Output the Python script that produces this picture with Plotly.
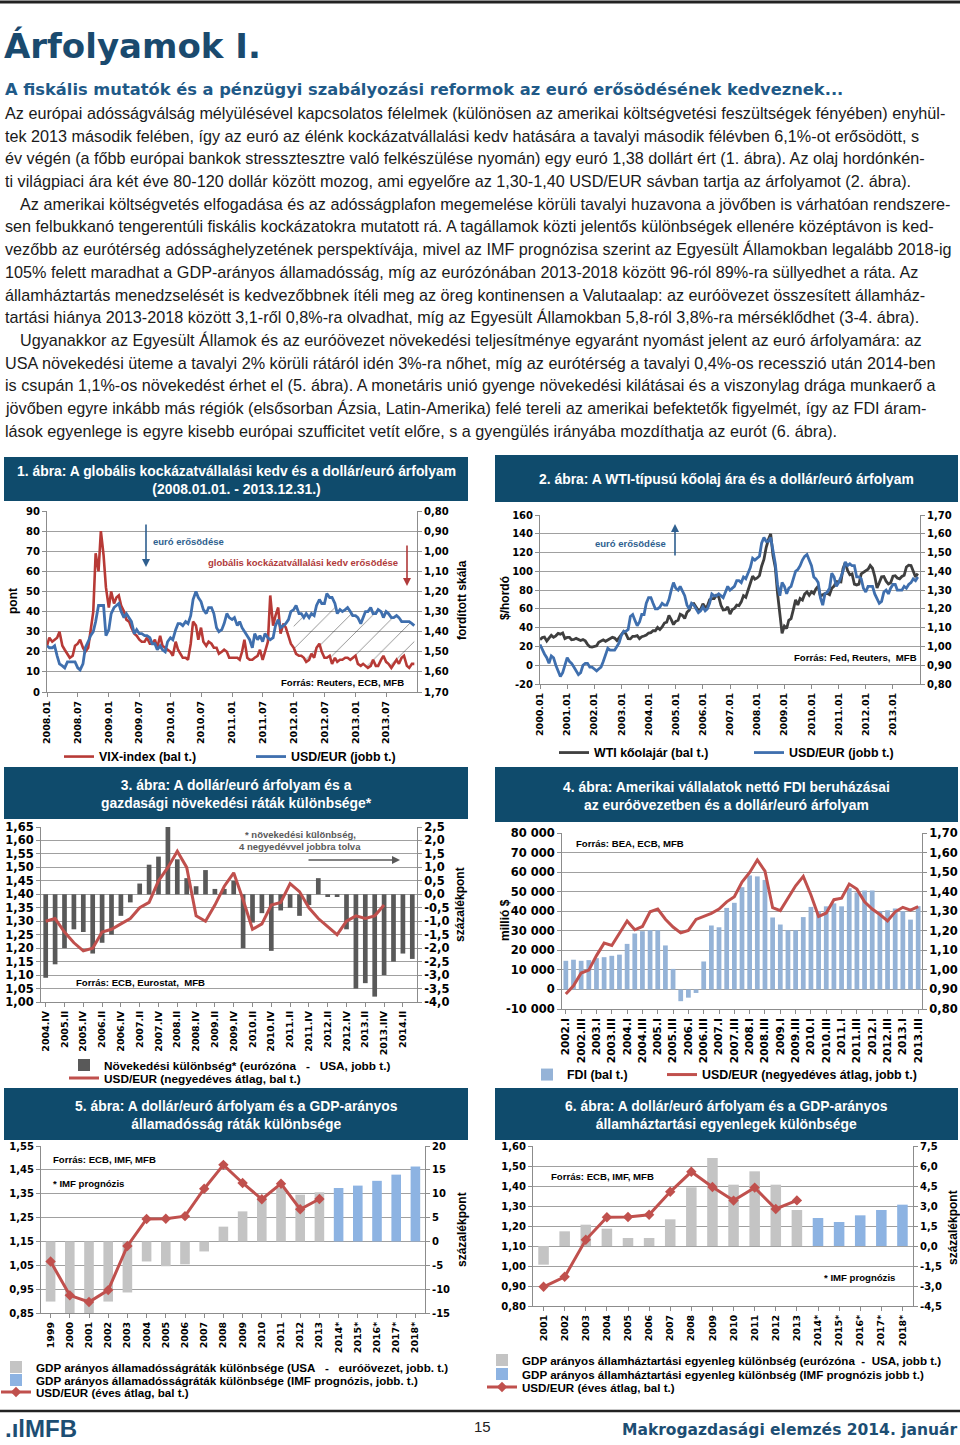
import plotly.graph_objects as go

W, H = 960, 1445


def X(p):
    return p / W


def Y(p):
    return 1 - p / H


def fmt(v, dec):
    return f"{v:.{dec}f}".replace(".", ",")


def fmt_k(v):
    s = f"{abs(int(v)):,}".replace(",", " ")
    return ("-" if v < 0 else "") + s


# ============================ DATA ============================
# --- 1. ábra: VIX and USD/EUR, semi-monthly 2008-2013 ---
c1_vix = [
    23, 27, 25, 26, 27, 30, 23, 21, 19, 17, 18, 23, 24, 26, 22, 20, 22, 31, 40, 69, 60, 80, 68, 52,
    42, 50, 44, 47, 48, 43, 40, 36, 35, 32, 29, 28, 26, 25, 25, 27, 24, 24, 26, 22, 28, 23, 22, 21,
    20, 18, 25, 21, 19, 17, 17, 16, 24, 35, 33, 26, 32, 25, 23, 25, 24, 22, 22, 19, 20, 21, 20, 17,
    17, 17, 17, 16, 20, 26, 17, 16, 16, 17, 18, 21, 16, 20, 25, 48, 33, 38, 42, 29, 34, 32, 28, 24,
    22, 19, 18, 18, 17, 15, 16, 19, 17, 22, 24, 20, 17, 17, 18, 14, 17, 15, 16, 16, 17, 17, 16, 17,
    18, 14, 13, 14, 13, 12, 13, 16, 13, 13, 16, 18, 15, 14, 12, 14, 16, 14, 17, 18, 13, 12, 14, 14,
]
c1_usd = [
    1.47, 1.48, 1.48, 1.47, 1.52, 1.56, 1.57, 1.58, 1.55, 1.55, 1.55, 1.55, 1.58, 1.59, 1.56, 1.48, 1.45, 1.42, 1.40, 1.35, 1.27, 1.27, 1.27, 1.42,
    1.39, 1.31, 1.28, 1.27, 1.26, 1.30, 1.33, 1.31, 1.33, 1.35, 1.41, 1.39, 1.41, 1.41, 1.42, 1.42, 1.43, 1.46, 1.46, 1.49, 1.47, 1.49, 1.50, 1.45,
    1.43, 1.44, 1.39, 1.36, 1.36, 1.37, 1.35, 1.36, 1.32, 1.24, 1.20, 1.23, 1.25, 1.29, 1.31, 1.28, 1.28, 1.31, 1.38, 1.40, 1.39, 1.36, 1.31, 1.33,
    1.34, 1.33, 1.37, 1.35, 1.38, 1.40, 1.42, 1.44, 1.48, 1.41, 1.44, 1.42, 1.45, 1.41, 1.43, 1.44, 1.43, 1.37, 1.34, 1.38, 1.37, 1.36, 1.34, 1.30,
    1.29, 1.27, 1.31, 1.31, 1.33, 1.31, 1.33, 1.31, 1.32, 1.27, 1.24, 1.26, 1.26, 1.21, 1.23, 1.23, 1.26, 1.31, 1.29, 1.30, 1.29, 1.28, 1.30, 1.32,
    1.32, 1.33, 1.36, 1.33, 1.30, 1.30, 1.28, 1.31, 1.31, 1.29, 1.30, 1.33, 1.30, 1.31, 1.33, 1.33, 1.32, 1.33, 1.35, 1.35, 1.35, 1.35, 1.36, 1.37,
]
c1_dates = [f"{y}-{m:02d}-{d:02d}" for y in range(2008, 2014) for m in range(1, 13) for d in (1, 15)]
c1_ticklabels = ["2008.01", "2008.07", "2009.01", "2009.07", "2010.01", "2010.07",
                 "2011.01", "2011.07", "2012.01", "2012.07", "2013.01", "2013.07"]
c1_left_ticks = [0, 10, 20, 30, 40, 50, 60, 70, 80, 90]
c1_right_ticks = [0.80, 0.90, 1.00, 1.10, 1.20, 1.30, 1.40, 1.50, 1.60, 1.70]
c1_hatch_start = "2012-01-01"

# --- 2. ábra: WTI and USD/EUR, monthly 2000-2013 ---
c2_wti = [
    27.3, 29.4, 29.9, 25.7, 28.8, 31.8, 29.7, 31.3, 33.9, 33.1, 34.4, 28.4,
    29.6, 29.6, 27.2, 27.4, 28.6, 27.6, 26.4, 27.4, 25.9, 22.2, 19.7, 19.3,
    19.7, 20.7, 24.4, 26.2, 27.0, 25.5, 26.9, 28.4, 29.7, 28.9, 26.3, 29.4,
    32.9, 35.9, 33.6, 28.3, 28.1, 30.7, 30.8, 31.6, 28.3, 30.3, 31.1, 32.2,
    34.3, 34.7, 36.7, 36.7, 40.3, 38.0, 40.7, 44.9, 45.9, 53.1, 48.5, 43.3,
    46.8, 48.0, 54.3, 53.0, 49.8, 56.3, 58.7, 65.0, 65.6, 62.4, 58.3, 59.4,
    65.5, 61.6, 62.9, 69.7, 70.9, 70.9, 74.4, 73.0, 63.8, 58.9, 59.1, 62.0,
    54.5, 59.3, 60.4, 64.0, 63.5, 67.5, 74.1, 72.4, 79.9, 85.8, 94.8, 91.7,
    93.0, 95.4, 105.5, 112.6, 125.4, 133.9, 140.0, 116.7, 104.1, 76.6, 57.3, 34.0,
    41.7, 39.1, 47.9, 49.6, 59.0, 69.6, 64.2, 71.1, 69.4, 75.7, 78.0, 74.5,
    78.3, 76.4, 81.2, 84.3, 73.7, 75.3, 76.3, 76.6, 75.2, 81.9, 84.3, 89.2,
    89.2, 88.6, 102.9, 109.5, 100.9, 96.3, 97.3, 86.3, 85.5, 86.3, 97.2, 98.6,
    100.3, 102.2, 106.2, 103.3, 94.7, 82.3, 87.9, 94.1, 94.5, 89.5, 86.5, 87.9,
    94.8, 95.3, 92.9, 92.0, 94.5, 95.8, 104.6, 106.6, 106.3, 100.5, 93.9, 97.6,
]
c2_usd = [
    1.01, 0.98, 0.96, 0.94, 0.91, 0.95, 0.94, 0.90, 0.87, 0.84, 0.86, 0.90,
    0.94, 0.92, 0.91, 0.89, 0.87, 0.85, 0.86, 0.90, 0.91, 0.91, 0.89, 0.89,
    0.88, 0.87, 0.88, 0.89, 0.92, 0.96, 0.99, 0.98, 0.98, 0.98, 1.00, 1.02,
    1.06, 1.08, 1.08, 1.09, 1.16, 1.17, 1.14, 1.11, 1.13, 1.17, 1.17, 1.23,
    1.26, 1.26, 1.23, 1.20, 1.20, 1.21, 1.23, 1.22, 1.22, 1.25, 1.30, 1.34,
    1.31, 1.30, 1.32, 1.29, 1.27, 1.22, 1.20, 1.23, 1.22, 1.20, 1.18, 1.19,
    1.21, 1.19, 1.20, 1.23, 1.28, 1.27, 1.27, 1.28, 1.27, 1.26, 1.29, 1.32,
    1.30, 1.31, 1.32, 1.35, 1.35, 1.34, 1.37, 1.36, 1.39, 1.42, 1.47, 1.46,
    1.47, 1.48, 1.55, 1.58, 1.56, 1.56, 1.58, 1.50, 1.44, 1.33, 1.27, 1.34,
    1.32, 1.28, 1.31, 1.32, 1.36, 1.40, 1.41, 1.43, 1.46, 1.48, 1.49, 1.46,
    1.43, 1.37, 1.36, 1.34, 1.26, 1.22, 1.28, 1.29, 1.31, 1.39, 1.37, 1.32,
    1.34, 1.37, 1.40, 1.45, 1.43, 1.44, 1.43, 1.43, 1.37, 1.37, 1.36, 1.31,
    1.29, 1.32, 1.32, 1.32, 1.28, 1.25, 1.23, 1.24, 1.29, 1.30, 1.28, 1.31,
    1.33, 1.33, 1.30, 1.30, 1.30, 1.32, 1.31, 1.33, 1.34, 1.36, 1.35, 1.37,
]
c2_dates = [f"{y}-{m:02d}-01" for y in range(2000, 2014) for m in range(1, 13)]
c2_ticklabels = [f"{y}.01" for y in range(2000, 2014)]
c2_left_ticks = [-20, 0, 20, 40, 60, 80, 100, 120, 140, 160]
c2_right_ticks = [0.80, 0.90, 1.00, 1.10, 1.20, 1.30, 1.40, 1.50, 1.60, 1.70]

# --- 3. ábra: growth differential (quarterly) and USD/EUR ---
c3_quarters = [
    "2004.IV", "2005.I", "2005.II", "2005.III", "2005.IV", "2006.I", "2006.II", "2006.III", "2006.IV",
    "2007.I", "2007.II", "2007.III", "2007.IV", "2008.I", "2008.II", "2008.III", "2008.IV",
    "2009.I", "2009.II", "2009.III", "2009.IV", "2010.I", "2010.II", "2010.III", "2010.IV",
    "2011.I", "2011.II", "2011.III", "2011.IV", "2012.I", "2012.II", "2012.III", "2012.IV",
    "2013.I", "2013.II", "2013.III", "2013.IV", "2014.I", "2014.II", "2014.III",
]
c3_growth = [-3.1, -2.6, -2.0, -1.3, -1.4, -2.2, -1.8, -1.5, -0.8, -0.3, 0.4, 1.1, 1.4, 2.5, 1.3, 0.6,
             0.3, 0.9, 0.2, 0.2, 0.5, -2.0, -1.05, -0.7, -2.1, -0.6, -0.5, -0.8, -0.4, 0.6, -0.1, -0.1,
             -1.3, -3.5, -3.3, -3.8, -3.0, -2.5, -2.2, -2.4]
c3_usd = [1.30, 1.31, 1.26, 1.22, 1.19, 1.20, 1.26, 1.27, 1.29, 1.31, 1.35, 1.37, 1.45, 1.50, 1.56, 1.50,
          1.32, 1.30, 1.36, 1.43, 1.48, 1.38, 1.27, 1.29, 1.36, 1.37, 1.44, 1.41, 1.35, 1.31, 1.28, 1.25,
          1.30, 1.32, 1.31, 1.32, 1.36]
c3_ticklabels = ["2004.IV", "2005.II", "2005.IV", "2006.II", "2006.IV", "2007.II", "2007.IV", "2008.II",
                 "2008.IV", "2009.II", "2009.IV", "2010.II", "2010.IV", "2011.II", "2011.IV", "2012.II",
                 "2012.IV", "2013.II", "2013.IIV", "2014.II"]
c3_left_ticks = [1.00, 1.05, 1.10, 1.15, 1.20, 1.25, 1.30, 1.35, 1.40, 1.45, 1.50, 1.55, 1.60, 1.65]
c3_right_ticks = [-4.0, -3.5, -3.0, -2.5, -2.0, -1.5, -1.0, -0.5, 0.0, 0.5, 1.0, 1.5, 2.0, 2.5]

# --- 4. ábra: US FDI in the euro area and USD/EUR ---
c4_quarters = [f"{y}.{q}" for y in range(2002, 2014) for q in ("I", "II", "III", "IV")][:47]
c4_fdi = [14650, 15200, 14650, 15000, 16000, 16500, 17200, 17800, 23300, 28600, 29800, 30300,
          30300, 22500, 10500, -6000, -4200, -1800, 14300, 32700, 31800, 41700, 44300, 52300,
          58300, 57800, 56000, 36800, 33200, 30300, 30300, 37000, 42200, 40000, 42500, 44000,
          42500, 51800, 49600, 50600, 50600, 40000, 40500, 41400, 40000, 35700, 42600]
c4_usd = [0.877, 0.919, 0.984, 0.999, 1.073, 1.137, 1.125, 1.189, 1.250, 1.205, 1.222, 1.297,
          1.311, 1.259, 1.219, 1.189, 1.202, 1.258, 1.274, 1.289, 1.311, 1.348, 1.374, 1.449,
          1.498, 1.562, 1.505, 1.318, 1.303, 1.363, 1.430, 1.478, 1.383, 1.273, 1.291, 1.359,
          1.367, 1.439, 1.413, 1.348, 1.311, 1.283, 1.250, 1.297, 1.320, 1.306, 1.324]
c4_left_ticks = [-10000, 0, 10000, 20000, 30000, 40000, 50000, 60000, 70000, 80000]
c4_right_ticks = [0.80, 0.90, 1.00, 1.10, 1.20, 1.30, 1.40, 1.50, 1.60, 1.70]

# --- 5. ábra: government debt ratio differential and USD/EUR ---
c5_years = ["1999", "2000", "2001", "2002", "2003", "2004", "2005", "2006", "2007", "2008",
            "2009", "2010", "2011", "2012", "2013"]
c5_forecast_years = ["2014*", "2015*", "2016*", "2017*", "2018*"]
c5_debt = [-12.6, -15.0, -15.0, -12.6, -10.7, -4.2, -5.2, -4.8, -2.1, 3.1, 6.3, 9.4, 11.2, 9.8, 10.3]
c5_debt_forecast = [11.2, 11.7, 12.7, 14.0, 15.7]
c5_usd = [1.066, 0.924, 0.896, 0.946, 1.131, 1.244, 1.245, 1.256, 1.371, 1.471, 1.395, 1.327,
          1.392, 1.285, 1.328]
c5_left_ticks = [0.85, 0.95, 1.05, 1.15, 1.25, 1.35, 1.45, 1.55]
c5_right_ticks = [-15, -10, -5, 0, 5, 10, 15, 20]

# --- 6. ábra: budget balance differential and USD/EUR ---
c6_years = ["2001", "2002", "2003", "2004", "2005", "2006", "2007", "2008", "2009", "2010",
            "2011", "2012", "2013"]
c6_forecast_years = ["2014*", "2015*", "2016*", "2017*", "2018*"]
c6_balance = [-1.4, 1.1, 1.6, 1.3, 0.6, 0.6, 2.0, 4.4, 6.6, 4.6, 5.6, 4.6, 2.7]
c6_balance_forecast = [2.1, 1.8, 2.3, 2.7, 3.1]
c6_usd = [0.896, 0.946, 1.131, 1.244, 1.245, 1.256, 1.371, 1.471, 1.395, 1.327, 1.392, 1.285, 1.328]
c6_left_ticks = [0.80, 0.90, 1.00, 1.10, 1.20, 1.30, 1.40, 1.50, 1.60]
c6_right_ticks = [-4.5, -3.0, -1.5, 0.0, 1.5, 3.0, 4.5, 6.0, 7.5]

# --- page text ---
page_title = "Árfolyamok I."
page_subtitle = "A fiskális mutatók és a pénzügyi szabályozási reformok az euró erősödésének kedveznek..."
body_lines = [
    "Az európai adósságválság mélyülésével kapcsolatos félelmek (különösen az amerikai költségvetési feszültségek fényében) enyhül-",
    "tek 2013 második felében, így az euró az élénk kockázatvállalási kedv hatására a tavalyi második félévben 6,1%-ot erősödött, s",
    "év végén (a főbb európai bankok stressztesztre való felkészülése nyomán) egy euró 1,38 dollárt ért (1. ábra). Az olaj hordónkén-",
    "ti világpiaci ára két éve 80-120 dollár között mozog, ami egyelőre az 1,30-1,40 USD/EUR sávban tartja az árfolyamot (2. ábra).",
    "Az amerikai költségvetés elfogadása és az adósságplafon megemelése körüli tavalyi huzavona a jövőben is várhatóan rendszere-",
    "sen felbukkanó tengerentúli fiskális kockázatokra mutatott rá. A tagállamok közti jelentős különbségek ellenére középtávon is ked-",
    "vezőbb az eurótérség adóssághelyzetének perspektívája, mivel az IMF prognózisa szerint az Egyesült Államokban legalább 2018-ig",
    "105% felett maradhat a GDP-arányos államadósság, míg az eurózónában 2013-2018 között 96-ról 89%-ra süllyedhet a ráta. Az",
    "államháztartás menedzselését is kedvezőbbnek ítéli meg az öreg kontinensen a Valutaalap: az euróövezet összesített államház-",
    "tartási hiánya 2013-2018 között 3,1-ről 0,8%-ra olvadhat, míg az Egyesült Államokban 5,8-ról 3,8%-ra mérséklődhet (3-4. ábra).",
    "Ugyanakkor az Egyesült Államok és az euróövezet növekedési teljesítménye egyaránt nyomást jelent az euró árfolyamára: az",
    "USA növekedési üteme a tavalyi 2% körüli rátáról idén 3%-ra nőhet, míg az eurótérség a tavalyi 0,4%-os recesszió után 2014-ben",
    "is csupán 1,1%-os növekedést érhet el (5. ábra). A monetáris unió gyenge növekedési kilátásai és a viszonylag drága munkaerő a",
    "jövőben egyre inkább más régiók (elsősorban Ázsia, Latin-Amerika) felé tereli az amerikai befektetők figyelmét, így az FDI áram-",
    "lások egyenlege is egyre kisebb európai szufficitet vetít előre, s a gyengülés irányába mozdíthatja az eurót (6. ábra).",
]
body_indent = [False, False, False, False, True, False, False, False, False, False, True, False, False, False, False]

# ============================ STYLE ============================
NAVY = "#0f4b6c"
HEAD = "#1a4a6e"
SUB = "#1f5a88"
RED = "#c0504d"
RED1 = "#b73a36"
BLUE1 = "#3f6fae"
DARK = "#3f3f3f"
BAR3 = "#595959"
FDI = "#95b3d7"
GRAYBAR = "#c4c4c4"
FOREBLUE = "#8db3e2"
GRID = "#a0a0a0"
AXIS = "#8c8c8c"
SANS = "Liberation Sans, Arial, sans-serif"
VERD = "DejaVu Sans, Verdana, sans-serif"

TICK10 = dict(family=VERD, size=10, color="black", weight="bold")
TICK11 = dict(family=VERD, size=11.5, color="black", weight="bold")
XT = dict(family=VERD, size=9.5, color="black", weight="bold")
XT4 = dict(family=VERD, size=10.5, color="black", weight="bold")
LEGF = dict(family=SANS, size=12.4, color="black", weight="bold")
LEGF3 = dict(family=SANS, size=11.8, color="black", weight="bold")
LEGF56 = dict(family=SANS, size=11.6, color="black", weight="bold")

fig = go.Figure()

# ---------------- chart 1 ----------------
i0 = c1_dates.index(c1_hatch_start)
fig.add_trace(go.Scatter(x=c1_dates[i0:], y=[(1.70 - u) * 100 for u in c1_usd[i0:]], mode="lines",
                         line=dict(width=0), showlegend=False, hoverinfo="skip", xaxis="x", yaxis="y"))
fig.add_trace(go.Scatter(x=c1_dates[i0:], y=c1_vix[i0:], mode="lines", line=dict(width=0), fill="tonexty",
                         fillcolor="rgba(0,0,0,0)",
                         fillpattern=dict(shape="/", fgcolor="#222222", bgcolor="rgba(0,0,0,0)", size=16,
                                          solidity=0.06),
                         showlegend=False, hoverinfo="skip", xaxis="x", yaxis="y"))
fig.add_trace(go.Scatter(x=c1_dates, y=c1_vix, mode="lines", name="VIX-index (bal t.)",
                         line=dict(color=RED1, width=2.6), xaxis="x", yaxis="y", legend="legend"))
fig.add_trace(go.Scatter(x=c1_dates, y=c1_usd, mode="lines", name="USD/EUR (jobb t.)",
                         line=dict(color=BLUE1, width=2.8), xaxis="x", yaxis="y2", legend="legend2"))

# ---------------- chart 2 ----------------
fig.add_trace(go.Scatter(x=c2_dates, y=c2_wti, mode="lines", name="WTI kőolajár (bal t.)",
                         line=dict(color=DARK, width=2.8), xaxis="x2", yaxis="y3", legend="legend3"))
fig.add_trace(go.Scatter(x=c2_dates, y=c2_usd, mode="lines", name="USD/EUR (jobb t.)",
                         line=dict(color=BLUE1, width=2.8), xaxis="x2", yaxis="y4", legend="legend4"))

# ---------------- chart 3 ----------------
fig.add_trace(go.Bar(x=c3_quarters, y=c3_growth, width=0.5, marker=dict(color=BAR3, line=dict(width=0)),
                     name="Növekedési különbség* (eurózóna\u00a0\u00a0 - \u00a0\u00a0USA, jobb t.)",
                     xaxis="x3", yaxis="y5", legend="legend5"))
fig.add_trace(go.Scatter(x=c3_quarters[:len(c3_usd)], y=c3_usd, mode="lines",
                         name="USD/EUR (negyedéves átlag, bal t.)",
                         line=dict(color=RED, width=3), xaxis="x3", yaxis="y6", legend="legend6"))

# ---------------- chart 4 ----------------
fig.add_trace(go.Bar(x=c4_quarters, y=c4_fdi, width=0.62, marker=dict(color=FDI, line=dict(width=0)),
                     name="FDI (bal t.)", xaxis="x4", yaxis="y7", legend="legend7"))
fig.add_trace(go.Scatter(x=c4_quarters, y=c4_usd, mode="lines", name="USD/EUR (negyedéves átlag, jobb t.)",
                         line=dict(color=RED, width=3), xaxis="x4", yaxis="y8", legend="legend8"))

# ---------------- chart 5 ----------------
fig.add_trace(go.Bar(x=c5_years, y=c5_debt, width=0.5, marker=dict(color=GRAYBAR, line=dict(width=0)),
                     name="GDP arányos államadósságráták különbsége (USA\u00a0\u00a0 - \u00a0\u00a0euróövezet, jobb. t.)",
                     xaxis="x5", yaxis="y9", legend="legend9"))
fig.add_trace(go.Bar(x=c5_forecast_years, y=c5_debt_forecast, width=0.5,
                     marker=dict(color=FOREBLUE, line=dict(width=0)),
                     name="GDP arányos államadósságráták különbsége (IMF prognózis, jobb. t.)",
                     xaxis="x5", yaxis="y9", legend="legend10"))
fig.add_trace(go.Scatter(x=c5_years, y=c5_usd, mode="lines+markers", name="USD/EUR (éves átlag, bal t.)",
                         line=dict(color=RED, width=3), marker=dict(symbol="diamond", size=8, color=RED),
                         xaxis="x5", yaxis="y10", legend="legend11"))

# ---------------- chart 6 ----------------
fig.add_trace(go.Bar(x=c6_years, y=c6_balance, width=0.5, marker=dict(color=GRAYBAR, line=dict(width=0)),
                     name="GDP arányos államháztartási egyenleg különbség (eurózóna\u00a0 - \u00a0USA, jobb t.)",
                     xaxis="x6", yaxis="y11", legend="legend12"))
fig.add_trace(go.Bar(x=c6_forecast_years, y=c6_balance_forecast, width=0.5,
                     marker=dict(color=FOREBLUE, line=dict(width=0)),
                     name="GDP arányos államháztartási egyenleg különbség (IMF prognózis jobb t.)",
                     xaxis="x6", yaxis="y11", legend="legend13"))
fig.add_trace(go.Scatter(x=c6_years, y=c6_usd, mode="lines+markers", name="USD/EUR (éves átlag, bal t.)",
                         line=dict(color=RED, width=3), marker=dict(symbol="diamond", size=8, color=RED),
                         xaxis="x6", yaxis="y12", legend="legend14"))


# ============================ AXES ============================
def yax(dom, rng, vals, texts, side, grid, font, anchor, overlay=None):
    d = dict(range=rng, tickmode="array", tickvals=vals, ticktext=texts, side=side, showgrid=grid,
             gridcolor=GRID, gridwidth=1, showline=True, linecolor=AXIS, linewidth=1, ticks="outside",
             ticklen=4, tickcolor=AXIS, tickfont=font, zeroline=False, anchor=anchor, fixedrange=True,
             automargin=False)
    if overlay:
        d["overlaying"] = overlay
    else:
        d["domain"] = dom
    return d


def xax(dom, anchor, font, **kw):
    d = dict(domain=dom, anchor=anchor, tickangle=-90, showgrid=False, showline=True, linecolor=AXIS,
             linewidth=1, ticks="outside", ticklen=4, tickcolor=AXIS, tickfont=font, zeroline=False,
             fixedrange=True, automargin=False)
    d.update(kw)
    return d


layout = dict(
    width=W, height=H, margin=dict(l=0, r=0, t=0, b=0, pad=0, autoexpand=False),
    paper_bgcolor="white", plot_bgcolor="white",
    barmode="overlay", showlegend=True, hovermode=False,
    # chart 1
    xaxis=xax([X(47), X(417)], "y", XT, type="date", range=["2008-01-01", "2013-12-31"],
              tickmode="array", tickvals=[t.replace(".", "-") + "-01" for t in c1_ticklabels],
              ticktext=c1_ticklabels),
    yaxis=yax([Y(692), Y(511)], [0, 90], c1_left_ticks, [str(v) for v in c1_left_ticks], "left", True,
              TICK10, "x"),
    yaxis2=yax(None, [1.70, 0.80], c1_right_ticks, [fmt(v, 2) for v in c1_right_ticks], "right", False,
               TICK10, "x", overlay="y"),
    # chart 2
    xaxis2=xax([X(540), X(920)], "y3", XT, type="date", range=["2000-01-01", "2013-12-31"],
               tickmode="array", tickvals=[t.replace(".", "-") + "-01" for t in c2_ticklabels],
               ticktext=c2_ticklabels),
    yaxis3=yax([Y(684), Y(515)], [-20, 160], c2_left_ticks, [str(v) for v in c2_left_ticks], "left", True,
               TICK10, "x2"),
    yaxis4=yax(None, [0.80, 1.70], c2_right_ticks, [fmt(v, 2) for v in c2_right_ticks], "right", False,
               TICK10, "x2", overlay="y3"),
    # chart 3 (bars on base axis, right side)
    xaxis3=xax([X(41), X(417)], "y5", XT, type="category", tickmode="array", tickvals=c3_quarters[::2],
               ticktext=c3_ticklabels, range=[-0.5, len(c3_quarters) - 0.5]),
    yaxis5=yax([Y(1002), Y(827)], [-4.0, 2.5], c3_right_ticks, [fmt(v, 1) for v in c3_right_ticks], "right",
               True, TICK11, "x3"),
    yaxis6=yax(None, [1.00, 1.65], c3_left_ticks, [fmt(v, 2) for v in c3_left_ticks], "left", False, TICK11,
               "x3", overlay="y5"),
    # chart 4
    xaxis4=xax([X(562), X(922)], "y7", XT4, type="category", tickmode="array", tickvals=c4_quarters[::2],
               ticktext=c4_quarters[::2], range=[-0.5, len(c4_quarters) - 0.5]),
    yaxis7=yax([Y(1009), Y(833)], [-10000, 80000], c4_left_ticks, [fmt_k(v) for v in c4_left_ticks], "left",
               True, TICK11, "x4"),
    yaxis8=yax(None, [0.80, 1.70], c4_right_ticks, [fmt(v, 2) for v in c4_right_ticks], "right", False,
               TICK11, "x4", overlay="y7"),
    # chart 5
    xaxis5=xax([X(41), X(425)], "y9", XT, type="category", categoryorder="array",
               categoryarray=c5_years + c5_forecast_years, range=[-0.5, 19.5]),
    yaxis9=yax([Y(1313), Y(1146)], [-15, 20], c5_right_ticks, [str(v) for v in c5_right_ticks], "right",
               True, TICK10, "x5"),
    yaxis10=yax(None, [0.85, 1.55], c5_left_ticks, [fmt(v, 2) for v in c5_left_ticks], "left", False,
                TICK10, "x5", overlay="y9"),
    # chart 6
    xaxis6=xax([X(533), X(913)], "y11", XT, type="category", categoryorder="array",
               categoryarray=c6_years + c6_forecast_years, range=[-0.5, 17.5]),
    yaxis11=yax([Y(1306), Y(1146)], [-4.5, 7.5], c6_right_ticks, [fmt(v, 1) for v in c6_right_ticks],
                "right", True, TICK10, "x6"),
    yaxis12=yax(None, [0.80, 1.60], c6_left_ticks, [fmt(v, 2) for v in c6_left_ticks], "left", False,
                TICK10, "x6", overlay="y11"),
)


# ============================ LEGENDS ============================
def leg(text_x, yc, font=LEGF):
    return dict(x=X(text_x - 42), y=Y(yc), xanchor="left", yanchor="middle", orientation="h", font=font,
                bgcolor="rgba(0,0,0,0)", borderwidth=0, itemwidth=30, tracegroupgap=0, itemclick=False,
                itemdoubleclick=False)


layout["legend"] = leg(101, 757)
layout["legend2"] = leg(293, 757)
layout["legend3"] = leg(596, 753)
layout["legend4"] = leg(791, 753)
layout["legend5"] = leg(106, 1065, LEGF3)
layout["legend6"] = leg(106, 1078, LEGF3)
layout["legend7"] = leg(569, 1075)
layout["legend8"] = leg(704, 1075)
layout["legend9"] = leg(38, 1367, LEGF56)
layout["legend10"] = leg(38, 1380, LEGF56)
layout["legend11"] = leg(38, 1392, LEGF56)
layout["legend12"] = leg(524, 1360, LEGF56)
layout["legend13"] = leg(524, 1374, LEGF56)
layout["legend14"] = leg(524, 1387, LEGF56)

fig.update_layout(**layout)

# ============================ SHAPES & TEXT ============================
shapes = []
ann = []


def rect(x0, y0, x1, y1, color):
    shapes.append(dict(type="rect", xref="paper", yref="paper", x0=X(x0), x1=X(x1), y0=Y(y1), y1=Y(y0),
                       fillcolor=color, line=dict(width=0), layer="below"))


def line(x0, y0, x1, y1, color, w):
    shapes.append(dict(type="line", xref="paper", yref="paper", x0=X(x0), x1=X(x1), y0=Y(y0), y1=Y(y1),
                       line=dict(color=color, width=w)))


def text(t, x, y, size, color="black", xanchor="left", family=SANS, angle=0):
    ann.append(dict(text=t, x=X(x), y=Y(y), xref="paper", yref="paper", xanchor=xanchor, yanchor="middle",
                    showarrow=False, font=dict(family=family, size=size, color=color), textangle=angle,
                    borderpad=0))


def arrow(x, y, ax, ay, color):
    ann.append(dict(text="", x=X(x), y=Y(y), xref="paper", yref="paper", ax=ax, ay=ay, showarrow=True,
                    arrowhead=2, arrowsize=1, arrowwidth=1.6, arrowcolor=color))


# page frame lines
line(0, 2, 960, 2, "#222222", 3)
line(0, 1411, 960, 1411, "#222222", 2.5)

# headings
text(f"<b>{page_title}</b>", 3, 46, 34, HEAD, family=VERD)
text(f"<b>{page_subtitle}</b>", 4, 89, 16.3, SUB, family=VERD)
for i, (ln, ind) in enumerate(zip(body_lines, body_indent)):
    text(ln, 19 if ind else 4, 113 + i * 22.7, 16.2, "#1a1a1a")

# chart title bars
titles = [
    (4, 457, 468, 501, "1. ábra: A globális kockázatvállalási kedv és a dollár/euró árfolyam<br>(2008.01.01. - 2013.12.31.)"),
    (495, 455, 958, 502, "2. ábra: A WTI-típusú kőolaj ára és a dollár/euró árfolyam"),
    (4, 767, 468, 819, "3. ábra: A dollár/euró árfolyam és a<br>gazdasági növekedési ráták különbsége*"),
    (495, 767, 958, 822, "4. ábra: Amerikai vállalatok nettó FDI beruházásai<br>az euróövezetben és a dollár/euró árfolyam"),
    (4, 1088, 468, 1140, "5. ábra: A dollár/euró árfolyam és a GDP-arányos<br>államadósság ráták különbsége"),
    (495, 1088, 958, 1140, "6. ábra: A dollár/euró árfolyam és a GDP-arányos<br>államháztartási egyenlegek különbsége"),
]
for x0, y0, x1, y1, t in titles:
    rect(x0, y0, x1, y1, NAVY)
    ann.append(dict(text=f"<b>{t}</b>", x=X((x0 + x1) / 2), y=Y((y0 + y1) / 2 + 1), xref="paper",
                    yref="paper", xanchor="center", yanchor="middle", showarrow=False,
                    font=dict(family=SANS, size=13.9, color="white")))

# chart 1 texts
text("<b>pont</b>", 13, 601, 12, angle=-90, xanchor="center")
text("<b>fordított skála</b>", 462, 600, 12, angle=-90, xanchor="center")
text("<b>euró erősödése</b>", 152, 541, 9.5, "#2f5f8f")
arrow(146, 567, 0, -44, "#2f5f8f")
text("<b>globális kockázatvállalási kedv erősödése</b>", 207, 562, 9.5, "#b03a3a")
arrow(407, 586, 0, -42, "#b03a3a")
text("<b>Forrás: Reuters, ECB, MFB</b>", 280, 682, 9.6)

# chart 2 texts
text("<b>$/hordó</b>", 505, 598, 12, angle=-90, xanchor="center")
text("<b>euró erősödése</b>", 594, 543, 9.5, "#2f5f8f")
arrow(675, 524, 0, 33, "#2f5f8f")
text("<b>Forrás: Fed, Reuters,  MFB</b>", 793, 657, 9.6)

# chart 3 texts
text("<b>* növekedési különbség,</b>", 300, 834, 9.5, "#595959", xanchor="center")
text("<b>4 negyedévvel jobbra tolva</b>", 300, 846, 9.5, "#595959", xanchor="center")
arrow(400, 860, -93, 0, "#595959")
text("<b>Forrás: ECB, Eurostat,  MFB</b>", 75, 982, 9.6)
text("<b>százalékpont</b>", 460, 905, 12, angle=-90, xanchor="center")

# chart 4 texts
text("<b>millió $</b>", 505, 920, 12, angle=-90, xanchor="center")
text("<b>Forrás: BEA, ECB, MFB</b>", 575, 844, 9.6)

# chart 5 texts
text("<b>százalékpont</b>", 462, 1230, 12, angle=-90, xanchor="center")
text("<b>Forrás: ECB, IMF, MFB</b>", 52, 1159, 9.6)
text("<b>* IMF prognózis</b>", 52, 1183, 9.6)

# chart 6 texts
text("<b>százalékpont</b>", 953, 1228, 12, angle=-90, xanchor="center")
text("<b>Forrás: ECB, IMF, MFB</b>", 550, 1176, 9.6)
text("<b>* IMF prognózis</b>", 823, 1277, 9.6)

# footer
text("<b>.ılMFB</b>", 4, 1428, 24, "#1d4e73", family=SANS)
text("15", 482, 1426, 15, "#222222", xanchor="center")
text("<b>Makrogazdasági elemzés 2014. január</b>", 958, 1430, 15.5, "#1d4e73", xanchor="right", family=VERD)

fig.update_layout(shapes=shapes, annotations=ann)
fig.write_html("out.html", config={"displayModeBar": False, "staticPlot": True},
               post_script="document.body.style.margin='0px';document.body.style.padding='0px';"
                           "document.body.style.overflow='hidden';")
